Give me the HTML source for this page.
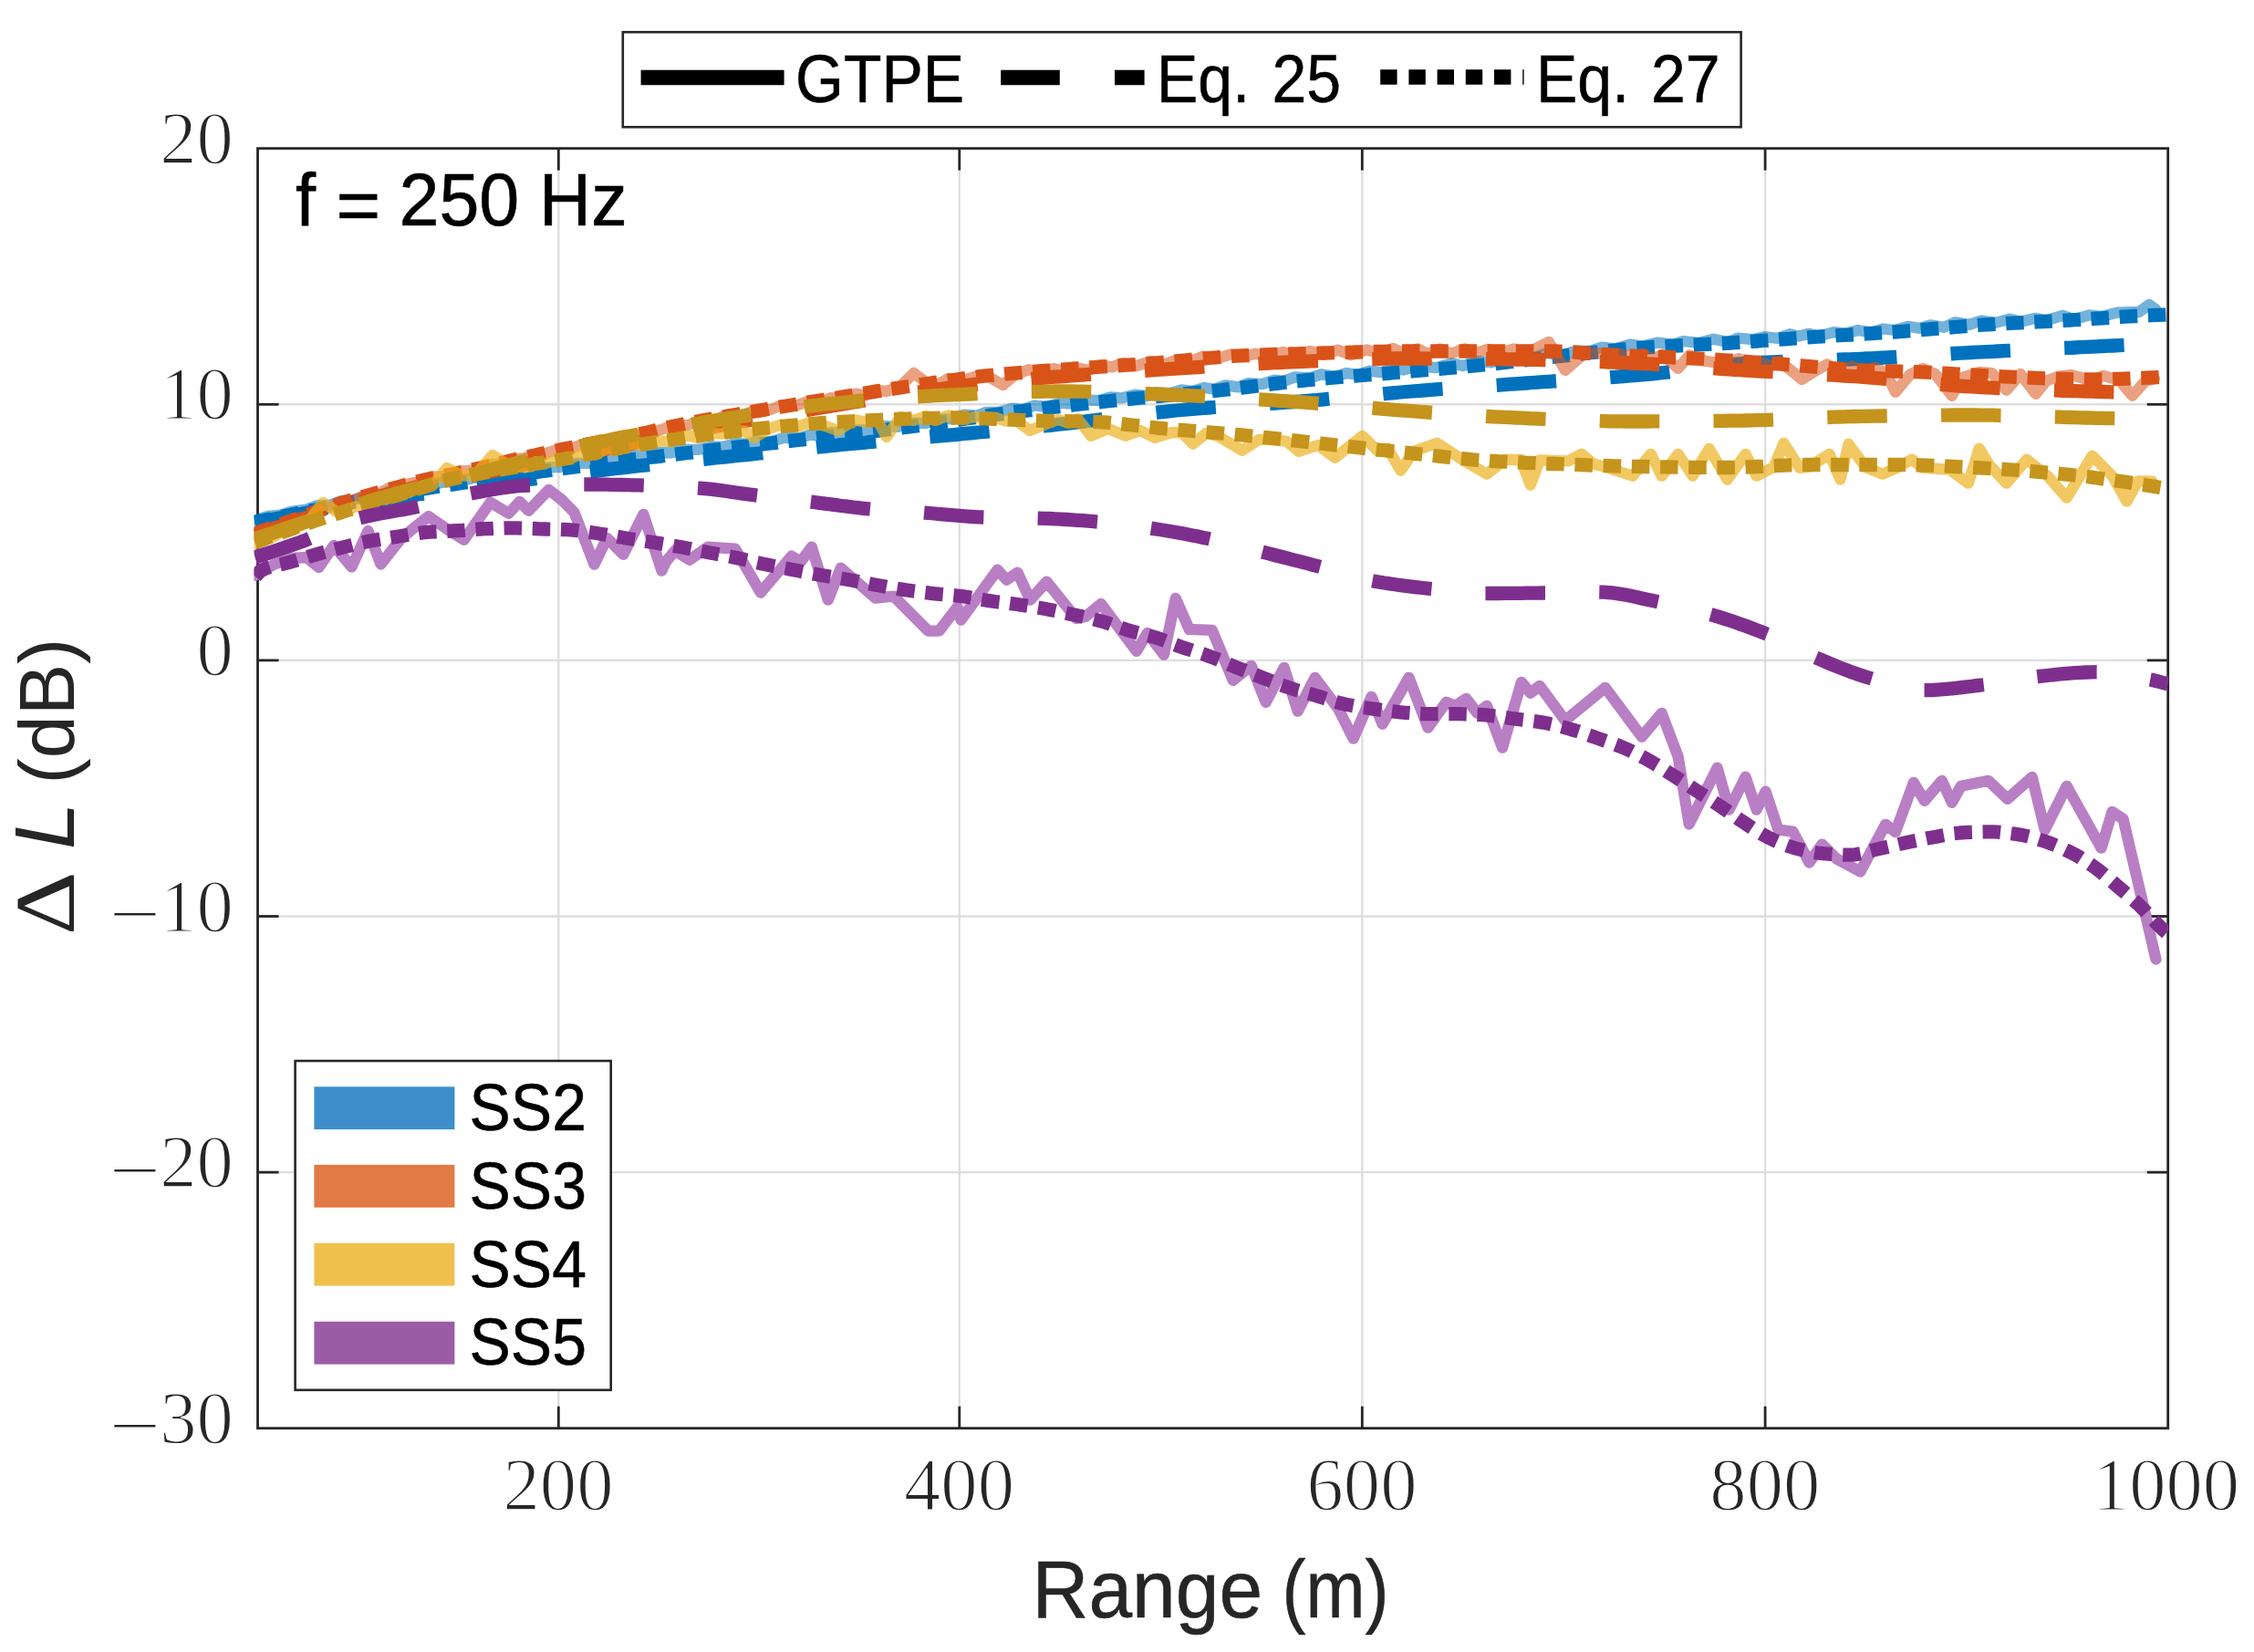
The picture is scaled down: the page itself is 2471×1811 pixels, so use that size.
<!DOCTYPE html>
<html><head><meta charset="utf-8"><title>Figure</title>
<style>html,body{margin:0;padding:0;background:#fff}svg{display:block}</style></head>
<body>
<svg width="2471" height="1811" viewBox="0 0 2471 1811">
<rect width="2471" height="1811" fill="#fff"/>
<g stroke="#DEDEDE" stroke-width="2.4" fill="none">
<line x1="612.3" y1="162.7" x2="612.3" y2="1565.7"/>
<line x1="1051.8" y1="162.7" x2="1051.8" y2="1565.7"/>
<line x1="1493.3" y1="162.7" x2="1493.3" y2="1565.7"/>
<line x1="1935.1" y1="162.7" x2="1935.1" y2="1565.7"/>
<line x1="282.5" y1="443.3" x2="2376.7" y2="443.3"/>
<line x1="282.5" y1="723.9" x2="2376.7" y2="723.9"/>
<line x1="282.5" y1="1004.5" x2="2376.7" y2="1004.5"/>
<line x1="282.5" y1="1285.1" x2="2376.7" y2="1285.1"/>
</g>
<g stroke="#262626" stroke-width="2.8" fill="none">
<rect x="282.5" y="162.7" width="2094.2" height="1403.0"/>
<line x1="612.3" y1="1565.7" x2="612.3" y2="1541.7"/>
<line x1="612.3" y1="162.7" x2="612.3" y2="186.7"/>
<line x1="1051.8" y1="1565.7" x2="1051.8" y2="1541.7"/>
<line x1="1051.8" y1="162.7" x2="1051.8" y2="186.7"/>
<line x1="1493.3" y1="1565.7" x2="1493.3" y2="1541.7"/>
<line x1="1493.3" y1="162.7" x2="1493.3" y2="186.7"/>
<line x1="1935.1" y1="1565.7" x2="1935.1" y2="1541.7"/>
<line x1="1935.1" y1="162.7" x2="1935.1" y2="186.7"/>
<line x1="282.5" y1="443.3" x2="305.5" y2="443.3"/>
<line x1="2376.7" y1="443.3" x2="2353.7" y2="443.3"/>
<line x1="282.5" y1="723.9" x2="305.5" y2="723.9"/>
<line x1="2376.7" y1="723.9" x2="2353.7" y2="723.9"/>
<line x1="282.5" y1="1004.5" x2="305.5" y2="1004.5"/>
<line x1="2376.7" y1="1004.5" x2="2353.7" y2="1004.5"/>
<line x1="282.5" y1="1285.1" x2="305.5" y2="1285.1"/>
<line x1="2376.7" y1="1285.1" x2="2353.7" y2="1285.1"/>
</g>
<defs><clipPath id="cp"><rect x="278.5" y="162.7" width="2098.7" height="1403.0"/></clipPath></defs>
<g clip-path="url(#cp)" fill="none" stroke-linejoin="round">
<path d="M279.5,570.1 L293.9,565.8 L308.7,564.4 L319.1,560.9 L335.9,558.5 L347.7,554.2 L361.4,553.8 L375.2,548.8 L386.3,548.5 L403.4,543.1 L419.4,541.8 L429.8,537.7 L444.5,536.9 L454.6,533.3 L468.4,533.4 L485.5,528.5 L503.1,527.8 L519.6,523.7 L537.3,523.2 L547.9,519.7 L559.5,520.0 L573.0,515.6 L585.3,515.9 L598.3,512.3 L613.1,512.2 L630.5,507.6 L648.1,507.9 L666.2,503.0 L677.4,504.2 L695.3,499.2 L709.8,500.0 L721.4,496.0 L736.0,496.5 L746.4,493.0 L764.5,492.9 L781.0,489.4 L792.1,489.9 L808.3,485.7 L818.5,487.2 L828.7,483.5 L841.3,484.9 L859.3,480.1 L877.5,480.0 L887.9,476.7 L898.0,477.5 L911.2,474.0 L922.3,474.6 L939.4,471.0 L957.3,471.4 L970.2,467.1 L984.4,467.8 L999.2,463.3 L1014.2,464.2 L1028.3,459.4 L1044.1,459.1 L1056.5,454.7 L1070.6,455.7 L1080.5,451.9 L1095.2,451.7 L1110.2,447.7 L1120.5,449.1 L1134.2,444.5 L1147.0,445.9 L1163.0,441.8 L1173.3,442.7 L1191.2,438.3 L1204.8,439.2 L1217.3,435.3 L1229.7,436.3 L1244.5,432.7 L1257.5,434.2 L1267.5,430.2 L1283.5,431.2 L1295.2,427.3 L1307.0,428.9 L1320.4,425.0 L1331.1,426.6 L1343.7,422.4 L1357.2,424.4 L1368.4,420.1 L1383.6,421.2 L1397.2,416.6 L1408.0,417.8 L1419.5,413.3 L1436.3,414.4 L1448.4,410.4 L1463.6,412.8 L1476.3,409.0 L1488.6,410.8 L1500.7,406.7 L1514.0,408.2 L1527.2,403.7 L1538.3,405.5 L1556.0,401.3 L1574.1,403.2 L1591.9,398.1 L1603.6,401.0 L1620.4,395.8 L1634.6,397.3 L1647.2,393.5 L1657.6,395.1 L1669.8,390.1 L1680.0,393.0 L1695.6,386.9 L1712.9,389.3 L1727.6,384.7 L1743.6,384.8 L1756.0,380.6 L1770.2,382.4 L1787.9,377.5 L1800.5,379.5 L1817.6,375.6 L1833.9,377.6 L1845.4,374.0 L1862.1,375.9 L1878.5,371.7 L1895.1,375.2 L1904.9,370.6 L1922.0,372.2 L1934.1,369.1 L1948.3,370.9 L1962.1,366.2 L1971.9,368.6 L1982.8,365.8 L1993.1,368.6 L2010.1,364.1 L2024.1,365.6 L2036.6,362.0 L2051.8,364.4 L2064.6,360.5 L2077.2,362.0 L2091.7,357.8 L2104.7,359.9 L2116.0,356.3 L2130.8,358.8 L2143.8,353.2 L2158.9,355.9 L2171.8,351.5 L2187.5,353.9 L2203.1,349.7 L2215.0,352.7 L2230.6,348.9 L2244.0,351.0 L2261.2,345.8 L2274.1,350.2 L2290.6,345.3 L2304.3,347.0 L2320.9,342.6 L2345.0,342.0 L2356.0,334.0 L2363.0,339.0" stroke="#0072BD" stroke-opacity="0.55" stroke-width="12.3" stroke-linecap="round"/>
<path d="M279.5,573.5 L285.5,572.3 L291.5,571.1 L297.5,569.8 L303.5,568.6 L309.5,567.4 L315.6,566.3 L321.6,565.1 L327.6,563.9 L333.6,562.8 L339.6,561.7 L345.6,560.5 L351.6,559.4 L357.6,558.3 L363.6,557.3 L369.6,556.2 L375.6,555.1 L381.7,554.1 L387.7,553.1 L393.7,552.1 L399.7,551.1 L405.7,550.1 L411.7,549.1 L417.7,548.1 L423.7,547.2 L429.7,546.2 L435.7,545.3 L441.7,544.4 L447.8,543.5 L453.8,542.6 L459.8,541.7 L465.8,540.9 L471.8,540.0 L477.8,539.1 L483.8,538.3 L489.8,537.4 L495.8,536.6 L501.8,535.7 L507.8,534.9 L513.9,534.1 L519.9,533.3 L525.9,532.5 L531.9,531.7 L537.9,530.9 L543.9,530.1 L549.9,529.4 L555.9,528.6 L561.9,527.8 L567.9,527.1 L573.9,526.3 L580.0,525.5 L586.0,524.8 L592.0,524.0 L598.0,523.3 L604.0,522.5 L610.0,521.7 L616.0,520.9 L622.0,520.2 L628.0,519.4 L634.0,518.6 L640.1,517.9 L646.1,517.1 L652.1,516.4 L658.1,515.6 L664.1,514.9 L670.1,514.2 L676.1,513.5 L682.1,512.8 L688.1,512.1 L694.1,511.4 L700.1,510.7 L706.2,510.1 L712.2,509.5 L718.2,508.8 L724.2,508.2 L730.2,507.6 L736.2,506.9 L742.2,506.3 L748.2,505.7 L754.2,505.1 L760.2,504.5 L766.2,503.9 L772.3,503.3 L778.3,502.7 L784.3,502.0 L790.3,501.4 L796.3,500.8 L802.3,500.2 L808.3,499.5 L814.3,498.9 L820.3,498.3 L826.3,497.6 L832.3,497.0 L838.4,496.3 L844.4,495.7 L850.4,495.0 L856.4,494.4 L862.4,493.8 L868.4,493.1 L874.4,492.5 L880.4,491.8 L886.4,491.2 L892.4,490.6 L898.4,489.9 L904.5,489.3 L910.5,488.7 L916.5,488.1 L922.5,487.5 L928.5,487.0 L934.5,486.4 L940.5,485.8 L946.5,485.3 L952.5,484.7 L958.5,484.2 L964.5,483.7 L970.6,483.1 L976.6,482.6 L982.6,482.1 L988.6,481.6 L994.6,481.1 L1000.6,480.6 L1006.6,480.0 L1012.6,479.5 L1018.6,479.0 L1024.6,478.5 L1030.6,477.9 L1036.7,477.4 L1042.7,476.9 L1048.7,476.3 L1054.7,475.7 L1060.7,475.2 L1066.7,474.6 L1072.7,474.0 L1078.7,473.5 L1084.7,472.9 L1090.7,472.3 L1096.7,471.7 L1102.8,471.1 L1108.8,470.6 L1114.8,470.0 L1120.8,469.4 L1126.8,468.8 L1132.8,468.1 L1138.8,467.5 L1144.8,466.9 L1150.8,466.3 L1156.8,465.7 L1162.8,465.0 L1168.9,464.4 L1174.9,463.7 L1180.9,463.0 L1186.9,462.3 L1192.9,461.5 L1198.9,460.8 L1204.9,460.1 L1210.9,459.3 L1216.9,458.5 L1222.9,457.8 L1228.9,457.0 L1235.0,456.3 L1241.0,455.5 L1247.0,454.8 L1253.0,454.0 L1259.0,453.3 L1265.0,452.6 L1271.0,451.9 L1277.0,451.3 L1283.0,450.6 L1289.0,450.0 L1295.0,449.5 L1301.1,448.9 L1307.1,448.4 L1313.1,447.9 L1319.1,447.4 L1325.1,447.0 L1331.1,446.5 L1337.1,446.1 L1343.1,445.7 L1349.1,445.3 L1355.1,444.8 L1361.2,444.4 L1367.2,444.1 L1373.2,443.7 L1379.2,443.3 L1385.2,442.9 L1391.2,442.5 L1397.2,442.1 L1403.2,441.6 L1409.2,441.2 L1415.2,440.8 L1421.2,440.3 L1427.3,439.8 L1433.3,439.3 L1439.3,438.8 L1445.3,438.3 L1451.3,437.8 L1457.3,437.2 L1463.3,436.7 L1469.3,436.1 L1475.3,435.6 L1481.3,435.0 L1487.3,434.4 L1493.4,433.9 L1499.4,433.3 L1505.4,432.7 L1511.4,432.2 L1517.4,431.6 L1523.4,431.1 L1529.4,430.6 L1535.4,430.0 L1541.4,429.5 L1547.4,429.0 L1553.4,428.6 L1559.5,428.1 L1565.5,427.6 L1571.5,427.2 L1577.5,426.7 L1583.5,426.3 L1589.5,425.9 L1595.5,425.4 L1601.5,425.0 L1607.5,424.6 L1613.5,424.2 L1619.5,423.7 L1625.6,423.3 L1631.6,422.9 L1637.6,422.5 L1643.6,422.1 L1649.6,421.7 L1655.6,421.2 L1661.6,420.8 L1667.6,420.4 L1673.6,420.0 L1679.6,419.5 L1685.6,419.1 L1691.7,418.7 L1697.7,418.3 L1703.7,417.9 L1709.7,417.5 L1715.7,417.1 L1721.7,416.7 L1727.7,416.3 L1733.7,415.9 L1739.7,415.5 L1745.7,415.1 L1751.7,414.6 L1757.8,414.2 L1763.8,413.8 L1769.8,413.3 L1775.8,412.9 L1781.8,412.4 L1787.8,411.9 L1793.8,411.4 L1799.8,410.9 L1805.8,410.4 L1811.8,409.8 L1817.8,409.2 L1823.9,408.5 L1829.9,407.8 L1835.9,407.1 L1841.9,406.3 L1847.9,405.6 L1853.9,404.8 L1859.9,404.1 L1865.9,403.3 L1871.9,402.6 L1877.9,401.9 L1883.9,401.2 L1890.0,400.6 L1896.0,400.0 L1902.0,399.4 L1908.0,398.9 L1914.0,398.5 L1920.0,398.1 L1926.0,397.7 L1932.0,397.4 L1938.0,397.1 L1944.0,396.8 L1950.0,396.6 L1956.1,396.3 L1962.1,396.1 L1968.1,395.9 L1974.1,395.7 L1980.1,395.5 L1986.1,395.3 L1992.1,395.1 L1998.1,394.9 L2004.1,394.7 L2010.1,394.5 L2016.1,394.2 L2022.2,394.0 L2028.2,393.8 L2034.2,393.6 L2040.2,393.3 L2046.2,393.0 L2052.2,392.8 L2058.2,392.5 L2064.2,392.1 L2070.2,391.8 L2076.2,391.5 L2082.3,391.1 L2088.3,390.8 L2094.3,390.4 L2100.3,390.1 L2106.3,389.7 L2112.3,389.4 L2118.3,389.0 L2124.3,388.6 L2130.3,388.3 L2136.3,387.9 L2142.3,387.5 L2148.4,387.2 L2154.4,386.9 L2160.4,386.5 L2166.4,386.2 L2172.4,385.9 L2178.4,385.6 L2184.4,385.3 L2190.4,385.0 L2196.4,384.7 L2202.4,384.4 L2208.4,384.1 L2214.5,383.8 L2220.5,383.5 L2226.5,383.2 L2232.5,382.9 L2238.5,382.7 L2244.5,382.4 L2250.5,382.1 L2256.5,381.8 L2262.5,381.5 L2268.5,381.3 L2274.5,381.0 L2280.6,380.7 L2286.6,380.4 L2292.6,380.1 L2298.6,379.8 L2304.6,379.5 L2310.6,379.2 L2316.6,379.0 L2322.6,378.7 L2328.6,378.4 L2334.6,378.1 L2340.6,377.8 L2346.7,377.5 L2352.7,377.2 L2358.7,376.9 L2364.7,376.6 L2370.7,376.3 L2376.7,376.0" stroke="#0072BD" stroke-width="15.3" stroke-dasharray="65.5 59.3" stroke-dashoffset="2.5"/>
<path d="M279.5,572.5 L285.5,571.3 L291.5,570.0 L297.5,568.8 L303.5,567.5 L309.5,566.3 L315.6,565.0 L321.6,563.8 L327.6,562.6 L333.6,561.3 L339.6,560.1 L345.6,558.9 L351.6,557.7 L357.6,556.4 L363.6,555.2 L369.6,554.0 L375.6,552.7 L381.7,551.4 L387.7,550.2 L393.7,549.0 L399.7,547.7 L405.7,546.5 L411.7,545.3 L417.7,544.1 L423.7,543.0 L429.7,541.8 L435.7,540.8 L441.7,539.7 L447.8,538.7 L453.8,537.7 L459.8,536.7 L465.8,535.7 L471.8,534.7 L477.8,533.8 L483.8,532.9 L489.8,532.0 L495.8,531.1 L501.8,530.2 L507.8,529.3 L513.9,528.4 L519.9,527.5 L525.9,526.6 L531.9,525.7 L537.9,524.8 L543.9,523.9 L549.9,523.1 L555.9,522.2 L561.9,521.3 L567.9,520.4 L573.9,519.6 L580.0,518.7 L586.0,517.9 L592.0,517.0 L598.0,516.2 L604.0,515.4 L610.0,514.5 L616.0,513.7 L622.0,512.9 L628.0,512.1 L634.0,511.3 L640.1,510.6 L646.1,509.8 L652.1,509.0 L658.1,508.2 L664.1,507.5 L670.1,506.7 L676.1,506.0 L682.1,505.2 L688.1,504.5 L694.1,503.7 L700.1,503.0 L706.2,502.2 L712.2,501.5 L718.2,500.8 L724.2,500.1 L730.2,499.3 L736.2,498.6 L742.2,497.9 L748.2,497.2 L754.2,496.5 L760.2,495.8 L766.2,495.1 L772.3,494.4 L778.3,493.7 L784.3,493.0 L790.3,492.3 L796.3,491.6 L802.3,490.9 L808.3,490.2 L814.3,489.5 L820.3,488.8 L826.3,488.1 L832.3,487.4 L838.4,486.7 L844.4,486.0 L850.4,485.3 L856.4,484.6 L862.4,483.9 L868.4,483.2 L874.4,482.5 L880.4,481.8 L886.4,481.1 L892.4,480.4 L898.4,479.7 L904.5,479.0 L910.5,478.3 L916.5,477.6 L922.5,476.9 L928.5,476.2 L934.5,475.5 L940.5,474.8 L946.5,474.1 L952.5,473.4 L958.5,472.7 L964.5,471.9 L970.6,471.2 L976.6,470.5 L982.6,469.7 L988.6,469.0 L994.6,468.2 L1000.6,467.4 L1006.6,466.6 L1012.6,465.8 L1018.6,464.9 L1024.6,464.1 L1030.6,463.2 L1036.7,462.3 L1042.7,461.5 L1048.7,460.6 L1054.7,459.7 L1060.7,458.8 L1066.7,458.0 L1072.7,457.1 L1078.7,456.3 L1084.7,455.4 L1090.7,454.6 L1096.7,453.8 L1102.8,453.0 L1108.8,452.2 L1114.8,451.4 L1120.8,450.7 L1126.8,449.9 L1132.8,449.1 L1138.8,448.4 L1144.8,447.6 L1150.8,446.9 L1156.8,446.2 L1162.8,445.5 L1168.9,444.8 L1174.9,444.1 L1180.9,443.4 L1186.9,442.7 L1192.9,442.1 L1198.9,441.4 L1204.9,440.8 L1210.9,440.1 L1216.9,439.5 L1222.9,438.9 L1228.9,438.3 L1235.0,437.7 L1241.0,437.1 L1247.0,436.5 L1253.0,436.0 L1259.0,435.4 L1265.0,434.9 L1271.0,434.3 L1277.0,433.7 L1283.0,433.2 L1289.0,432.6 L1295.0,432.1 L1301.1,431.5 L1307.1,430.9 L1313.1,430.3 L1319.1,429.7 L1325.1,429.1 L1331.1,428.5 L1337.1,427.9 L1343.1,427.2 L1349.1,426.5 L1355.1,425.8 L1361.2,425.1 L1367.2,424.4 L1373.2,423.6 L1379.2,422.9 L1385.2,422.1 L1391.2,421.4 L1397.2,420.7 L1403.2,419.9 L1409.2,419.2 L1415.2,418.6 L1421.2,417.9 L1427.3,417.3 L1433.3,416.7 L1439.3,416.1 L1445.3,415.6 L1451.3,415.0 L1457.3,414.5 L1463.3,414.0 L1469.3,413.5 L1475.3,413.0 L1481.3,412.5 L1487.3,412.0 L1493.4,411.5 L1499.4,411.0 L1505.4,410.6 L1511.4,410.1 L1517.4,409.6 L1523.4,409.1 L1529.4,408.5 L1535.4,408.0 L1541.4,407.5 L1547.4,407.0 L1553.4,406.5 L1559.5,406.0 L1565.5,405.5 L1571.5,405.0 L1577.5,404.5 L1583.5,404.0 L1589.5,403.5 L1595.5,402.9 L1601.5,402.4 L1607.5,401.8 L1613.5,401.2 L1619.5,400.6 L1625.6,400.0 L1631.6,399.4 L1637.6,398.7 L1643.6,398.1 L1649.6,397.4 L1655.6,396.7 L1661.6,396.0 L1667.6,395.3 L1673.6,394.6 L1679.6,393.9 L1685.6,393.2 L1691.7,392.5 L1697.7,391.8 L1703.7,391.1 L1709.7,390.5 L1715.7,389.8 L1721.7,389.2 L1727.7,388.5 L1733.7,387.9 L1739.7,387.2 L1745.7,386.5 L1751.7,385.9 L1757.8,385.2 L1763.8,384.6 L1769.8,384.0 L1775.8,383.4 L1781.8,382.8 L1787.8,382.3 L1793.8,381.8 L1799.8,381.3 L1805.8,380.9 L1811.8,380.5 L1817.8,380.1 L1823.9,379.7 L1829.9,379.4 L1835.9,379.1 L1841.9,378.8 L1847.9,378.5 L1853.9,378.2 L1859.9,377.9 L1865.9,377.6 L1871.9,377.3 L1877.9,377.0 L1883.9,376.7 L1890.0,376.4 L1896.0,376.0 L1902.0,375.6 L1908.0,375.2 L1914.0,374.8 L1920.0,374.4 L1926.0,374.0 L1932.0,373.5 L1938.0,373.1 L1944.0,372.7 L1950.0,372.2 L1956.1,371.8 L1962.1,371.3 L1968.1,370.9 L1974.1,370.5 L1980.1,370.0 L1986.1,369.6 L1992.1,369.2 L1998.1,368.8 L2004.1,368.5 L2010.1,368.1 L2016.1,367.7 L2022.2,367.4 L2028.2,367.0 L2034.2,366.6 L2040.2,366.3 L2046.2,365.9 L2052.2,365.5 L2058.2,365.2 L2064.2,364.8 L2070.2,364.4 L2076.2,364.0 L2082.3,363.6 L2088.3,363.1 L2094.3,362.7 L2100.3,362.2 L2106.3,361.7 L2112.3,361.2 L2118.3,360.7 L2124.3,360.1 L2130.3,359.6 L2136.3,359.1 L2142.3,358.6 L2148.4,358.1 L2154.4,357.6 L2160.4,357.1 L2166.4,356.7 L2172.4,356.2 L2178.4,355.8 L2184.4,355.5 L2190.4,355.1 L2196.4,354.8 L2202.4,354.4 L2208.4,354.1 L2214.5,353.8 L2220.5,353.5 L2226.5,353.2 L2232.5,352.9 L2238.5,352.6 L2244.5,352.3 L2250.5,352.0 L2256.5,351.7 L2262.5,351.4 L2268.5,351.0 L2274.5,350.7 L2280.6,350.3 L2286.6,349.9 L2292.6,349.6 L2298.6,349.2 L2304.6,348.8 L2310.6,348.4 L2316.6,348.0 L2322.6,347.6 L2328.6,347.2 L2334.6,346.9 L2340.6,346.5 L2346.7,346.2 L2352.7,345.9 L2358.7,345.6 L2364.7,345.4 L2370.7,345.2 L2376.7,345.0" stroke="#0072BD" stroke-width="15.3" stroke-dasharray="19.5 11.7" stroke-dashoffset="1.1"/>
<path d="M279.5,586.0 L294.4,578.3 L310.8,575.0 L327.1,567.4 L339.9,565.0 L354.0,556.9 L364.0,556.0 L375.0,550.2 L388.6,547.8 L399.4,543.2 L415.6,541.0 L426.0,535.2 L436.2,535.2 L446.3,530.5 L462.2,527.7 L472.9,522.6 L488.8,522.2 L505.4,516.5 L519.8,515.4 L536.3,509.1 L552.9,508.4 L564.3,502.9 L574.7,502.5 L584.3,498.5 L598.1,497.1 L612.5,492.2 L624.1,492.7 L636.9,487.3 L649.8,487.5 L659.3,482.0 L668.6,484.0 L684.3,478.4 L699.5,477.4 L713.1,472.5 L722.6,471.8 L739.1,466.0 L754.1,466.1 L770.6,459.6 L782.5,460.3 L797.6,455.1 L812.5,455.5 L828.3,449.9 L844.8,448.9 L856.6,444.2 L872.8,444.6 L889.1,438.9 L900.7,440.0 L911.2,436.1 L921.4,437.3 L938.3,431.6 L947.8,433.6 L961.0,427.5 L972.0,429.1 L987.5,423.2 L1001.6,409.0 L1016.2,419.7 L1029.1,421.0 L1039.2,415.2 L1055.8,417.0 L1071.0,412.0 L1083.5,412.8 L1099.5,422.0 L1111.8,411.7 L1127.6,405.1 L1140.2,408.7 L1155.0,404.0 L1166.4,406.7 L1176.6,402.6 L1193.4,405.8 L1207.4,400.2 L1219.1,402.4 L1230.4,398.1 L1246.2,401.1 L1261.5,395.9 L1276.0,399.5 L1291.0,394.1 L1305.6,396.0 L1318.5,390.6 L1333.0,393.4 L1349.5,388.3 L1363.1,390.9 L1376.4,387.7 L1390.8,390.8 L1406.3,385.9 L1421.6,389.6 L1435.7,384.8 L1451.3,388.9 L1466.9,383.7 L1481.4,389.3 L1498.0,383.5 L1511.2,386.9 L1526.8,382.0 L1539.6,387.6 L1554.4,382.3 L1564.8,387.9 L1578.4,382.4 L1590.8,387.5 L1606.0,382.4 L1620.7,386.3 L1631.0,382.8 L1645.2,386.7 L1659.6,382.4 L1669.1,387.3 L1679.9,383.7 L1698.0,374.9 L1715.9,405.9 L1735.7,388.6 L1751.9,386.8 L1764.1,390.8 L1776.4,388.0 L1792.0,392.4 L1801.4,387.8 L1811.2,393.6 L1823.0,388.7 L1839.7,403.9 L1851.9,389.4 L1869.7,395.9 L1889.8,398.5 L1906.4,393.1 L1918.2,400.3 L1927.4,395.7 L1940.9,401.2 L1951.1,396.1 L1975.5,415.9 L1991.0,406.1 L2003.0,399.4 L2019.2,407.4 L2030.4,401.3 L2043.3,408.4 L2054.9,402.4 L2067.9,409.0 L2077.9,429.8 L2094.6,410.1 L2108.0,404.0 L2121.6,410.1 L2139.8,433.8 L2151.2,413.9 L2170.0,408.0 L2183.9,409.1 L2199.7,427.8 L2215.0,410.0 L2231.7,431.8 L2243.7,417.2 L2257.0,412.5 L2270.0,411.0 L2282.6,414.3 L2293.7,418.8 L2305.6,411.8 L2323.3,416.9 L2337.6,433.8 L2352.0,417.7 L2362.0,415.0" stroke="#D95319" stroke-opacity="0.55" stroke-width="12.3" stroke-linecap="round"/>
<path d="M279.5,586.8 L285.5,584.8 L291.5,582.8 L297.5,580.8 L303.5,578.8 L309.5,576.8 L315.6,574.8 L321.6,572.8 L327.6,570.8 L333.6,568.8 L339.6,566.8 L345.6,564.8 L351.6,562.8 L357.6,560.8 L363.6,558.8 L369.6,556.9 L375.6,555.1 L381.7,553.4 L387.7,551.7 L393.7,550.1 L399.7,548.5 L405.7,546.9 L411.7,545.4 L417.7,543.9 L423.7,542.3 L429.7,540.8 L435.7,539.3 L441.7,537.7 L447.8,536.2 L453.8,534.8 L459.8,533.3 L465.8,531.9 L471.8,530.6 L477.8,529.4 L483.8,528.2 L489.8,527.0 L495.8,525.8 L501.8,524.6 L507.8,523.4 L513.9,522.1 L519.9,520.8 L525.9,519.4 L531.9,518.1 L537.9,516.8 L543.9,515.5 L549.9,514.2 L555.9,512.9 L561.9,511.6 L567.9,510.3 L573.9,509.1 L580.0,507.8 L586.0,506.6 L592.0,505.4 L598.0,504.1 L604.0,502.9 L610.0,501.7 L616.0,500.6 L622.0,499.4 L628.0,498.3 L634.0,497.2 L640.1,496.2 L646.1,495.2 L652.1,494.1 L658.1,493.1 L664.1,492.0 L670.1,490.9 L676.1,489.8 L682.1,488.6 L688.1,487.3 L694.1,486.0 L700.1,484.7 L706.2,483.3 L712.2,481.9 L718.2,480.5 L724.2,479.2 L730.2,478.0 L736.2,476.7 L742.2,475.5 L748.2,474.3 L754.2,473.1 L760.2,472.0 L766.2,470.8 L772.3,469.6 L778.3,468.5 L784.3,467.4 L790.3,466.2 L796.3,465.1 L802.3,464.0 L808.3,462.9 L814.3,461.8 L820.3,460.7 L826.3,459.7 L832.3,458.6 L838.4,457.5 L844.4,456.4 L850.4,455.4 L856.4,454.3 L862.4,453.3 L868.4,452.3 L874.4,451.2 L880.4,450.2 L886.4,449.2 L892.4,448.2 L898.4,447.2 L904.5,446.2 L910.5,445.2 L916.5,444.2 L922.5,443.2 L928.5,442.2 L934.5,441.3 L940.5,440.3 L946.5,439.3 L952.5,438.3 L958.5,437.4 L964.5,436.4 L970.6,435.5 L976.6,434.5 L982.6,433.6 L988.6,432.7 L994.6,431.8 L1000.6,430.9 L1006.6,430.0 L1012.6,429.1 L1018.6,428.3 L1024.6,427.4 L1030.6,426.5 L1036.7,425.7 L1042.7,424.9 L1048.7,424.0 L1054.7,423.2 L1060.7,422.4 L1066.7,421.7 L1072.7,420.9 L1078.7,420.2 L1084.7,419.6 L1090.7,418.9 L1096.7,418.3 L1102.8,417.7 L1108.8,417.2 L1114.8,416.6 L1120.8,416.1 L1126.8,415.6 L1132.8,415.1 L1138.8,414.6 L1144.8,414.2 L1150.8,413.7 L1156.8,413.2 L1162.8,412.8 L1168.9,412.3 L1174.9,411.9 L1180.9,411.4 L1186.9,411.0 L1192.9,410.5 L1198.9,410.1 L1204.9,409.7 L1210.9,409.2 L1216.9,408.8 L1222.9,408.4 L1228.9,408.0 L1235.0,407.6 L1241.0,407.2 L1247.0,406.8 L1253.0,406.4 L1259.0,406.0 L1265.0,405.6 L1271.0,405.2 L1277.0,404.8 L1283.0,404.4 L1289.0,404.1 L1295.0,403.7 L1301.1,403.3 L1307.1,402.9 L1313.1,402.6 L1319.1,402.2 L1325.1,401.8 L1331.1,401.4 L1337.1,401.1 L1343.1,400.7 L1349.1,400.3 L1355.1,400.0 L1361.2,399.6 L1367.2,399.3 L1373.2,399.0 L1379.2,398.6 L1385.2,398.3 L1391.2,398.0 L1397.2,397.7 L1403.2,397.5 L1409.2,397.2 L1415.2,396.9 L1421.2,396.7 L1427.3,396.4 L1433.3,396.2 L1439.3,395.9 L1445.3,395.7 L1451.3,395.4 L1457.3,395.1 L1463.3,394.9 L1469.3,394.7 L1475.3,394.4 L1481.3,394.2 L1487.3,394.0 L1493.4,393.8 L1499.4,393.6 L1505.4,393.5 L1511.4,393.3 L1517.4,393.2 L1523.4,393.1 L1529.4,393.0 L1535.4,393.0 L1541.4,393.0 L1547.4,393.0 L1553.4,393.0 L1559.5,393.0 L1565.5,393.1 L1571.5,393.1 L1577.5,393.1 L1583.5,393.2 L1589.5,393.2 L1595.5,393.2 L1601.5,393.3 L1607.5,393.4 L1613.5,393.4 L1619.5,393.5 L1625.6,393.5 L1631.6,393.6 L1637.6,393.7 L1643.6,393.7 L1649.6,393.8 L1655.6,393.9 L1661.6,394.0 L1667.6,394.0 L1673.6,394.1 L1679.6,394.3 L1685.6,394.4 L1691.7,394.5 L1697.7,394.7 L1703.7,394.8 L1709.7,395.0 L1715.7,395.2 L1721.7,395.4 L1727.7,395.6 L1733.7,395.8 L1739.7,396.0 L1745.7,396.3 L1751.7,396.5 L1757.8,396.7 L1763.8,397.0 L1769.8,397.2 L1775.8,397.5 L1781.8,397.7 L1787.8,398.0 L1793.8,398.3 L1799.8,398.6 L1805.8,398.9 L1811.8,399.2 L1817.8,399.6 L1823.9,399.9 L1829.9,400.3 L1835.9,400.7 L1841.9,401.1 L1847.9,401.6 L1853.9,402.0 L1859.9,402.4 L1865.9,402.8 L1871.9,403.3 L1877.9,403.7 L1883.9,404.1 L1890.0,404.5 L1896.0,404.9 L1902.0,405.3 L1908.0,405.7 L1914.0,406.1 L1920.0,406.4 L1926.0,406.8 L1932.0,407.1 L1938.0,407.4 L1944.0,407.7 L1950.0,408.0 L1956.1,408.4 L1962.1,408.7 L1968.1,409.0 L1974.1,409.3 L1980.1,409.6 L1986.1,409.9 L1992.1,410.2 L1998.1,410.6 L2004.1,410.9 L2010.1,411.2 L2016.1,411.6 L2022.2,412.0 L2028.2,412.3 L2034.2,412.7 L2040.2,413.2 L2046.2,413.6 L2052.2,414.1 L2058.2,414.6 L2064.2,415.1 L2070.2,415.7 L2076.2,416.3 L2082.3,416.9 L2088.3,417.5 L2094.3,418.1 L2100.3,418.7 L2106.3,419.3 L2112.3,420.0 L2118.3,420.5 L2124.3,421.1 L2130.3,421.7 L2136.3,422.2 L2142.3,422.7 L2148.4,423.1 L2154.4,423.5 L2160.4,423.9 L2166.4,424.2 L2172.4,424.6 L2178.4,424.9 L2184.4,425.2 L2190.4,425.5 L2196.4,425.7 L2202.4,426.0 L2208.4,426.3 L2214.5,426.5 L2220.5,426.8 L2226.5,427.0 L2232.5,427.2 L2238.5,427.4 L2244.5,427.7 L2250.5,427.9 L2256.5,428.1 L2262.5,428.3 L2268.5,428.5 L2274.5,428.6 L2280.6,428.8 L2286.6,429.0 L2292.6,429.2 L2298.6,429.3 L2304.6,429.5 L2310.6,429.6 L2316.6,429.8 L2322.6,429.9 L2328.6,430.1 L2334.6,430.2 L2340.6,430.3 L2346.7,430.5 L2352.7,430.6 L2358.7,430.7 L2364.7,430.8 L2370.7,430.9 L2376.7,431.0" stroke="#D95319" stroke-width="15.3" stroke-dasharray="65.5 59.3" stroke-dashoffset="4.0"/>
<path d="M279.5,584.9 L285.5,582.7 L291.5,580.6 L297.5,578.5 L303.5,576.3 L309.5,574.2 L315.6,572.1 L321.6,570.0 L327.6,567.9 L333.6,565.7 L339.6,563.6 L345.6,561.4 L351.6,559.3 L357.6,557.2 L363.6,555.1 L369.6,553.1 L375.6,551.1 L381.7,549.3 L387.7,547.5 L393.7,545.7 L399.7,544.0 L405.7,542.3 L411.7,540.7 L417.7,539.0 L423.7,537.4 L429.7,535.7 L435.7,534.0 L441.7,532.3 L447.8,530.7 L453.8,529.0 L459.8,527.5 L465.8,526.0 L471.8,524.6 L477.8,523.3 L483.8,522.2 L489.8,521.0 L495.8,519.9 L501.8,518.6 L507.8,517.3 L513.9,515.9 L519.9,514.5 L525.9,513.1 L531.9,511.6 L537.9,510.2 L543.9,508.8 L549.9,507.3 L555.9,505.9 L561.9,504.6 L567.9,503.2 L573.9,501.8 L580.0,500.5 L586.0,499.1 L592.0,497.8 L598.0,496.5 L604.0,495.2 L610.0,493.9 L616.0,492.6 L622.0,491.4 L628.0,490.2 L634.0,489.0 L640.1,487.8 L646.1,486.6 L652.1,485.4 L658.1,484.3 L664.1,483.1 L670.1,482.0 L676.1,480.8 L682.1,479.6 L688.1,478.4 L694.1,477.2 L700.1,476.0 L706.2,474.8 L712.2,473.5 L718.2,472.0 L724.2,470.4 L730.2,469.0 L736.2,467.7 L742.2,466.4 L748.2,465.2 L754.2,464.0 L760.2,462.8 L766.2,461.7 L772.3,460.6 L778.3,459.5 L784.3,458.4 L790.3,457.4 L796.3,456.3 L802.3,455.3 L808.3,454.2 L814.3,453.2 L820.3,452.2 L826.3,451.1 L832.3,450.1 L838.4,449.1 L844.4,448.0 L850.4,447.0 L856.4,446.0 L862.4,445.0 L868.4,444.0 L874.4,443.0 L880.4,442.0 L886.4,441.0 L892.4,440.0 L898.4,439.1 L904.5,438.1 L910.5,437.1 L916.5,436.2 L922.5,435.2 L928.5,434.2 L934.5,433.3 L940.5,432.3 L946.5,431.3 L952.5,430.4 L958.5,429.4 L964.5,428.4 L970.6,427.5 L976.6,426.5 L982.6,425.6 L988.6,424.7 L994.6,423.8 L1000.6,422.9 L1006.6,422.0 L1012.6,421.1 L1018.6,420.3 L1024.6,419.4 L1030.6,418.5 L1036.7,417.7 L1042.7,416.8 L1048.7,416.0 L1054.7,415.2 L1060.7,414.4 L1066.7,413.6 L1072.7,412.9 L1078.7,412.2 L1084.7,411.5 L1090.7,410.9 L1096.7,410.4 L1102.8,409.8 L1108.8,409.3 L1114.8,408.8 L1120.8,408.3 L1126.8,407.8 L1132.8,407.4 L1138.8,406.9 L1144.8,406.5 L1150.8,406.1 L1156.8,405.7 L1162.8,405.2 L1168.9,404.8 L1174.9,404.4 L1180.9,403.9 L1186.9,403.5 L1192.9,403.1 L1198.9,402.7 L1204.9,402.2 L1210.9,401.8 L1216.9,401.4 L1222.9,401.0 L1228.9,400.6 L1235.0,400.2 L1241.0,399.8 L1247.0,399.4 L1253.0,399.0 L1259.0,398.5 L1265.0,398.1 L1271.0,397.6 L1277.0,397.1 L1283.0,396.6 L1289.0,396.0 L1295.0,395.4 L1301.1,394.8 L1307.1,394.2 L1313.1,393.6 L1319.1,393.1 L1325.1,392.5 L1331.1,392.0 L1337.1,391.5 L1343.1,391.0 L1349.1,390.6 L1355.1,390.2 L1361.2,389.9 L1367.2,389.7 L1373.2,389.4 L1379.2,389.2 L1385.2,389.0 L1391.2,388.7 L1397.2,388.5 L1403.2,388.3 L1409.2,388.2 L1415.2,388.0 L1421.2,387.8 L1427.3,387.6 L1433.3,387.5 L1439.3,387.3 L1445.3,387.2 L1451.3,387.0 L1457.3,386.9 L1463.3,386.7 L1469.3,386.5 L1475.3,386.3 L1481.3,386.2 L1487.3,386.0 L1493.4,385.8 L1499.4,385.7 L1505.4,385.5 L1511.4,385.4 L1517.4,385.3 L1523.4,385.2 L1529.4,385.1 L1535.4,385.0 L1541.4,385.0 L1547.4,385.0 L1553.4,385.0 L1559.5,385.0 L1565.5,385.0 L1571.5,385.0 L1577.5,385.0 L1583.5,385.0 L1589.5,385.0 L1595.5,385.0 L1601.5,385.0 L1607.5,385.0 L1613.5,385.0 L1619.5,385.0 L1625.6,385.0 L1631.6,385.0 L1637.6,385.0 L1643.6,385.0 L1649.6,385.0 L1655.6,385.0 L1661.6,385.0 L1667.6,385.0 L1673.6,385.0 L1679.6,385.0 L1685.6,385.0 L1691.7,385.0 L1697.7,385.0 L1703.7,385.0 L1709.7,385.2 L1715.7,385.4 L1721.7,385.8 L1727.7,386.2 L1733.7,386.6 L1739.7,387.1 L1745.7,387.6 L1751.7,388.1 L1757.8,388.5 L1763.8,388.9 L1769.8,389.2 L1775.8,389.5 L1781.8,389.8 L1787.8,390.0 L1793.8,390.3 L1799.8,390.5 L1805.8,390.7 L1811.8,391.0 L1817.8,391.2 L1823.9,391.5 L1829.9,391.7 L1835.9,392.0 L1841.9,392.2 L1847.9,392.5 L1853.9,392.8 L1859.9,393.1 L1865.9,393.4 L1871.9,393.8 L1877.9,394.1 L1883.9,394.5 L1890.0,394.9 L1896.0,395.2 L1902.0,395.6 L1908.0,396.0 L1914.0,396.4 L1920.0,396.8 L1926.0,397.3 L1932.0,397.7 L1938.0,398.1 L1944.0,398.5 L1950.0,398.9 L1956.1,399.4 L1962.1,399.8 L1968.1,400.3 L1974.1,400.8 L1980.1,401.3 L1986.1,401.8 L1992.1,402.3 L1998.1,402.8 L2004.1,403.3 L2010.1,403.8 L2016.1,404.2 L2022.2,404.7 L2028.2,405.1 L2034.2,405.5 L2040.2,405.8 L2046.2,406.1 L2052.2,406.3 L2058.2,406.5 L2064.2,406.7 L2070.2,406.9 L2076.2,407.0 L2082.3,407.2 L2088.3,407.4 L2094.3,407.5 L2100.3,407.7 L2106.3,407.9 L2112.3,408.2 L2118.3,408.5 L2124.3,408.8 L2130.3,409.1 L2136.3,409.4 L2142.3,409.8 L2148.4,410.1 L2154.4,410.5 L2160.4,410.9 L2166.4,411.2 L2172.4,411.6 L2178.4,411.9 L2184.4,412.3 L2190.4,412.6 L2196.4,412.8 L2202.4,413.1 L2208.4,413.4 L2214.5,413.6 L2220.5,413.9 L2226.5,414.1 L2232.5,414.4 L2238.5,414.7 L2244.5,414.9 L2250.5,415.1 L2256.5,415.3 L2262.5,415.5 L2268.5,415.7 L2274.5,415.8 L2280.6,415.9 L2286.6,416.0 L2292.6,416.0 L2298.6,416.0 L2304.6,415.9 L2310.6,415.7 L2316.6,415.5 L2322.6,415.3 L2328.6,415.1 L2334.6,414.9 L2340.6,414.6 L2346.7,414.3 L2352.7,414.1 L2358.7,413.9 L2364.7,413.6 L2370.7,413.3 L2376.7,413.0" stroke="#D95319" stroke-width="15.3" stroke-dasharray="19.5 11.7" stroke-dashoffset="0.7"/>
<path d="M279.5,596.1 L289.8,589.4 L299.4,588.7 L311.4,582.0 L324.5,578.9 L336.9,573.0 L354.0,551.0 L373.1,563.6 L389.6,555.3 L401.8,555.2 L411.3,548.2 L422.6,547.7 L432.7,542.5 L448.1,540.0 L461.8,532.9 L473.8,532.5 L490.0,513.0 L506.5,521.5 L520.2,521.5 L540.0,499.0 L559.7,511.4 L575.7,512.3 L587.0,506.1 L597.0,508.3 L612.0,503.3 L624.9,502.9 L639.3,497.1 L652.8,498.6 L664.4,492.0 L678.1,493.1 L690.8,486.9 L707.2,488.1 L721.5,483.3 L736.1,484.1 L752.9,477.4 L764.3,479.6 L778.6,475.2 L791.3,475.6 L801.3,472.2 L816.4,472.6 L827.0,480.0 L843.3,469.8 L855.9,465.6 L871.9,468.4 L887.7,463.3 L900.1,465.4 L918.5,472.0 L937.3,460.3 L950.1,463.1 L961.3,459.5 L972.0,479.0 L987.2,456.6 L1001.7,460.8 L1015.6,456.2 L1025.1,460.9 L1040.3,455.4 L1055.6,459.8 L1067.8,457.1 L1081.9,460.0 L1091.5,457.9 L1101.9,461.5 L1111.4,459.2 L1129.0,472.0 L1149.5,463.7 L1159.8,460.0 L1171.6,463.6 L1181.6,459.2 L1196.0,477.8 L1215.0,470.0 L1234.0,477.8 L1250.0,472.0 L1266.0,479.8 L1285.0,474.0 L1295.6,474.3 L1307.8,486.8 L1322.1,475.0 L1335.0,478.0 L1361.7,493.8 L1380.0,481.8 L1392.0,482.0 L1410.3,483.6 L1423.7,494.8 L1445.0,488.0 L1463.6,501.8 L1493.6,477.8 L1510.7,494.7 L1521.4,491.6 L1535.5,515.8 L1550.4,494.5 L1575.4,485.8 L1605.0,505.0 L1630.0,519.7 L1650.0,504.0 L1667.3,504.0 L1677.9,531.7 L1688.0,504.4 L1700.0,505.0 L1718.9,505.4 L1733.9,497.8 L1746.5,508.5 L1760.0,512.0 L1789.8,521.7 L1809.7,497.8 L1821.7,521.7 L1839.7,497.8 L1855.7,521.7 L1873.7,491.8 L1893.6,525.7 L1913.6,497.8 L1925.6,521.7 L1944.6,512.1 L1955.5,485.8 L1972.8,512.9 L1983.5,511.7 L2005.5,497.8 L2017.5,525.7 L2026.5,486.8 L2045.0,512.0 L2063.9,519.7 L2079.9,512.6 L2095.9,503.7 L2107.5,512.7 L2125.0,514.0 L2137.2,514.6 L2157.8,529.7 L2169.8,491.7 L2180.7,509.6 L2199.7,529.7 L2221.7,503.7 L2245.0,522.0 L2265.7,545.7 L2293.6,499.7 L2315.8,522.0 L2331.6,549.6 L2343.9,527.5 L2359.5,527.7" stroke="#EDB120" stroke-opacity="0.7" stroke-width="12.3" stroke-linecap="round"/>
<path d="M279.5,590.9 L285.5,588.8 L291.5,586.7 L297.5,584.7 L303.5,582.6 L309.5,580.6 L315.6,578.5 L321.6,576.5 L327.6,574.5 L333.6,572.5 L339.6,570.5 L345.6,568.5 L351.6,566.5 L357.6,564.5 L363.6,562.5 L369.6,560.5 L375.6,558.5 L381.7,556.5 L387.7,554.6 L393.7,552.8 L399.7,551.0 L405.7,549.2 L411.7,547.4 L417.7,545.7 L423.7,544.0 L429.7,542.3 L435.7,540.7 L441.7,539.0 L447.8,537.4 L453.8,535.8 L459.8,534.3 L465.8,532.8 L471.8,531.3 L477.8,529.9 L483.8,528.5 L489.8,527.0 L495.8,525.6 L501.8,524.2 L507.8,522.8 L513.9,521.3 L519.9,519.8 L525.9,518.2 L531.9,516.7 L537.9,515.1 L543.9,513.5 L549.9,512.0 L555.9,510.4 L561.9,508.8 L567.9,507.2 L573.9,505.6 L580.0,504.0 L586.0,502.4 L592.0,500.8 L598.0,499.1 L604.0,497.5 L610.0,495.9 L616.0,494.2 L622.0,492.7 L628.0,491.1 L634.0,489.7 L640.1,488.3 L646.1,487.0 L652.1,485.7 L658.1,484.4 L664.1,483.2 L670.1,482.0 L676.1,480.8 L682.1,479.6 L688.1,478.5 L694.1,477.3 L700.1,476.2 L706.2,475.0 L712.2,473.9 L718.2,472.7 L724.2,471.6 L730.2,470.5 L736.2,469.4 L742.2,468.3 L748.2,467.2 L754.2,466.1 L760.2,465.0 L766.2,464.0 L772.3,462.9 L778.3,461.9 L784.3,460.9 L790.3,460.0 L796.3,459.0 L802.3,458.0 L808.3,457.0 L814.3,456.1 L820.3,455.1 L826.3,454.1 L832.3,453.2 L838.4,452.2 L844.4,451.3 L850.4,450.4 L856.4,449.5 L862.4,448.6 L868.4,447.7 L874.4,446.9 L880.4,446.1 L886.4,445.3 L892.4,444.6 L898.4,443.9 L904.5,443.2 L910.5,442.6 L916.5,442.0 L922.5,441.4 L928.5,440.8 L934.5,440.3 L940.5,439.7 L946.5,439.2 L952.5,438.7 L958.5,438.2 L964.5,437.7 L970.6,437.3 L976.6,436.8 L982.6,436.4 L988.6,435.9 L994.6,435.5 L1000.6,435.1 L1006.6,434.8 L1012.6,434.4 L1018.6,434.1 L1024.6,433.7 L1030.6,433.4 L1036.7,433.2 L1042.7,432.9 L1048.7,432.6 L1054.7,432.3 L1060.7,432.1 L1066.7,431.8 L1072.7,431.5 L1078.7,431.3 L1084.7,431.0 L1090.7,430.8 L1096.7,430.5 L1102.8,430.3 L1108.8,430.1 L1114.8,429.9 L1120.8,429.7 L1126.8,429.5 L1132.8,429.4 L1138.8,429.3 L1144.8,429.2 L1150.8,429.1 L1156.8,429.0 L1162.8,429.0 L1168.9,429.0 L1174.9,429.0 L1180.9,429.1 L1186.9,429.2 L1192.9,429.3 L1198.9,429.5 L1204.9,429.6 L1210.9,429.8 L1216.9,430.0 L1222.9,430.2 L1228.9,430.4 L1235.0,430.7 L1241.0,430.9 L1247.0,431.2 L1253.0,431.4 L1259.0,431.7 L1265.0,432.0 L1271.0,432.2 L1277.0,432.5 L1283.0,432.8 L1289.0,433.0 L1295.0,433.3 L1301.1,433.5 L1307.1,433.8 L1313.1,434.1 L1319.1,434.4 L1325.1,434.7 L1331.1,435.0 L1337.1,435.3 L1343.1,435.6 L1349.1,436.0 L1355.1,436.3 L1361.2,436.7 L1367.2,437.0 L1373.2,437.4 L1379.2,437.8 L1385.2,438.1 L1391.2,438.5 L1397.2,438.9 L1403.2,439.3 L1409.2,439.7 L1415.2,440.1 L1421.2,440.5 L1427.3,440.9 L1433.3,441.4 L1439.3,441.8 L1445.3,442.3 L1451.3,442.8 L1457.3,443.3 L1463.3,443.8 L1469.3,444.3 L1475.3,444.9 L1481.3,445.4 L1487.3,445.9 L1493.4,446.4 L1499.4,446.9 L1505.4,447.4 L1511.4,447.9 L1517.4,448.4 L1523.4,448.9 L1529.4,449.4 L1535.4,449.8 L1541.4,450.2 L1547.4,450.7 L1553.4,451.1 L1559.5,451.6 L1565.5,452.0 L1571.5,452.4 L1577.5,452.9 L1583.5,453.3 L1589.5,453.7 L1595.5,454.1 L1601.5,454.6 L1607.5,455.0 L1613.5,455.3 L1619.5,455.7 L1625.6,456.1 L1631.6,456.5 L1637.6,456.8 L1643.6,457.1 L1649.6,457.4 L1655.6,457.7 L1661.6,458.0 L1667.6,458.2 L1673.6,458.5 L1679.6,458.8 L1685.6,459.0 L1691.7,459.3 L1697.7,459.6 L1703.7,459.8 L1709.7,460.1 L1715.7,460.3 L1721.7,460.6 L1727.7,460.8 L1733.7,461.0 L1739.7,461.2 L1745.7,461.4 L1751.7,461.5 L1757.8,461.7 L1763.8,461.8 L1769.8,461.9 L1775.8,461.9 L1781.8,462.0 L1787.8,462.0 L1793.8,462.0 L1799.8,462.0 L1805.8,462.0 L1811.8,461.9 L1817.8,461.9 L1823.9,461.9 L1829.9,461.9 L1835.9,461.8 L1841.9,461.8 L1847.9,461.7 L1853.9,461.7 L1859.9,461.6 L1865.9,461.5 L1871.9,461.5 L1877.9,461.4 L1883.9,461.3 L1890.0,461.3 L1896.0,461.2 L1902.0,461.1 L1908.0,461.1 L1914.0,461.0 L1920.0,460.9 L1926.0,460.7 L1932.0,460.6 L1938.0,460.4 L1944.0,460.1 L1950.0,459.9 L1956.1,459.6 L1962.1,459.4 L1968.1,459.1 L1974.1,458.8 L1980.1,458.5 L1986.1,458.3 L1992.1,458.0 L1998.1,457.7 L2004.1,457.5 L2010.1,457.2 L2016.1,457.0 L2022.2,456.8 L2028.2,456.7 L2034.2,456.5 L2040.2,456.4 L2046.2,456.3 L2052.2,456.2 L2058.2,456.1 L2064.2,456.0 L2070.2,455.9 L2076.2,455.8 L2082.3,455.7 L2088.3,455.6 L2094.3,455.5 L2100.3,455.4 L2106.3,455.4 L2112.3,455.3 L2118.3,455.2 L2124.3,455.2 L2130.3,455.1 L2136.3,455.1 L2142.3,455.0 L2148.4,455.0 L2154.4,455.0 L2160.4,455.0 L2166.4,455.0 L2172.4,455.1 L2178.4,455.1 L2184.4,455.2 L2190.4,455.3 L2196.4,455.4 L2202.4,455.6 L2208.4,455.7 L2214.5,455.9 L2220.5,456.1 L2226.5,456.2 L2232.5,456.4 L2238.5,456.6 L2244.5,456.8 L2250.5,457.0 L2256.5,457.2 L2262.5,457.4 L2268.5,457.5 L2274.5,457.7 L2280.6,457.9 L2286.6,458.0 L2292.6,458.1 L2298.6,458.3 L2304.6,458.4 L2310.6,458.6 L2316.6,458.7 L2322.6,458.8 L2328.6,459.0 L2334.6,459.1 L2340.6,459.2 L2346.7,459.3 L2352.7,459.5 L2358.7,459.6 L2364.7,459.7 L2370.7,459.9 L2376.7,460.0" stroke="#C4941C" stroke-width="15.3" stroke-dasharray="65.5 59.3" stroke-dashoffset="3.4"/>
<path d="M279.5,595.0 L285.5,592.6 L291.5,590.3 L297.5,588.0 L303.5,585.7 L309.5,583.5 L315.6,581.3 L321.6,579.2 L327.6,577.0 L333.6,574.9 L339.6,572.9 L345.6,570.8 L351.6,568.8 L357.6,566.8 L363.6,564.9 L369.6,563.1 L375.6,561.2 L381.7,559.3 L387.7,557.4 L393.7,555.6 L399.7,553.7 L405.7,551.9 L411.7,550.0 L417.7,548.2 L423.7,546.4 L429.7,544.6 L435.7,542.8 L441.7,540.9 L447.8,539.1 L453.8,537.2 L459.8,535.3 L465.8,533.4 L471.8,531.5 L477.8,529.8 L483.8,528.1 L489.8,526.5 L495.8,525.0 L501.8,523.7 L507.8,522.4 L513.9,521.2 L519.9,520.1 L525.9,519.0 L531.9,517.9 L537.9,516.8 L543.9,515.8 L549.9,514.8 L555.9,513.7 L561.9,512.7 L567.9,511.6 L573.9,510.6 L580.0,509.6 L586.0,508.6 L592.0,507.7 L598.0,506.7 L604.0,505.7 L610.0,504.7 L616.0,503.6 L622.0,502.5 L628.0,501.4 L634.0,500.2 L640.1,499.0 L646.1,497.7 L652.1,496.5 L658.1,495.2 L664.1,494.0 L670.1,492.8 L676.1,491.7 L682.1,490.6 L688.1,489.6 L694.1,488.6 L700.1,487.6 L706.2,486.6 L712.2,485.7 L718.2,484.8 L724.2,483.9 L730.2,483.0 L736.2,482.1 L742.2,481.2 L748.2,480.4 L754.2,479.5 L760.2,478.6 L766.2,477.8 L772.3,477.0 L778.3,476.2 L784.3,475.4 L790.3,474.6 L796.3,473.8 L802.3,473.1 L808.3,472.4 L814.3,471.7 L820.3,471.0 L826.3,470.4 L832.3,469.8 L838.4,469.2 L844.4,468.6 L850.4,468.0 L856.4,467.5 L862.4,466.9 L868.4,466.4 L874.4,465.8 L880.4,465.3 L886.4,464.8 L892.4,464.4 L898.4,463.9 L904.5,463.5 L910.5,463.1 L916.5,462.7 L922.5,462.4 L928.5,462.1 L934.5,461.8 L940.5,461.5 L946.5,461.2 L952.5,460.9 L958.5,460.6 L964.5,460.4 L970.6,460.1 L976.6,459.8 L982.6,459.6 L988.6,459.3 L994.6,459.1 L1000.6,458.9 L1006.6,458.7 L1012.6,458.5 L1018.6,458.4 L1024.6,458.3 L1030.6,458.2 L1036.7,458.1 L1042.7,458.0 L1048.7,458.0 L1054.7,458.0 L1060.7,458.1 L1066.7,458.3 L1072.7,458.5 L1078.7,458.7 L1084.7,459.0 L1090.7,459.3 L1096.7,459.6 L1102.8,459.9 L1108.8,460.2 L1114.8,460.4 L1120.8,460.7 L1126.8,460.9 L1132.8,461.1 L1138.8,461.2 L1144.8,461.3 L1150.8,461.4 L1156.8,461.5 L1162.8,461.6 L1168.9,461.7 L1174.9,461.8 L1180.9,461.9 L1186.9,462.1 L1192.9,462.2 L1198.9,462.4 L1204.9,462.6 L1210.9,463.0 L1216.9,463.4 L1222.9,464.0 L1228.9,464.6 L1235.0,465.3 L1241.0,466.0 L1247.0,466.7 L1253.0,467.4 L1259.0,468.1 L1265.0,468.7 L1271.0,469.3 L1277.0,469.8 L1283.0,470.3 L1289.0,470.8 L1295.0,471.3 L1301.1,471.8 L1307.1,472.3 L1313.1,472.8 L1319.1,473.3 L1325.1,473.8 L1331.1,474.3 L1337.1,474.8 L1343.1,475.3 L1349.1,475.8 L1355.1,476.4 L1361.2,476.9 L1367.2,477.5 L1373.2,478.1 L1379.2,478.7 L1385.2,479.3 L1391.2,479.9 L1397.2,480.6 L1403.2,481.2 L1409.2,481.9 L1415.2,482.5 L1421.2,483.2 L1427.3,483.9 L1433.3,484.5 L1439.3,485.2 L1445.3,485.8 L1451.3,486.5 L1457.3,487.1 L1463.3,487.8 L1469.3,488.4 L1475.3,489.1 L1481.3,489.8 L1487.3,490.4 L1493.4,491.1 L1499.4,491.8 L1505.4,492.4 L1511.4,493.1 L1517.4,493.7 L1523.4,494.4 L1529.4,495.0 L1535.4,495.7 L1541.4,496.3 L1547.4,496.9 L1553.4,497.6 L1559.5,498.2 L1565.5,498.9 L1571.5,499.5 L1577.5,500.2 L1583.5,500.8 L1589.5,501.5 L1595.5,502.1 L1601.5,502.7 L1607.5,503.2 L1613.5,503.8 L1619.5,504.3 L1625.6,504.7 L1631.6,505.1 L1637.6,505.5 L1643.6,505.8 L1649.6,506.1 L1655.6,506.4 L1661.6,506.7 L1667.6,507.0 L1673.6,507.3 L1679.6,507.5 L1685.6,507.8 L1691.7,508.0 L1697.7,508.3 L1703.7,508.5 L1709.7,508.7 L1715.7,509.0 L1721.7,509.2 L1727.7,509.4 L1733.7,509.7 L1739.7,509.9 L1745.7,510.1 L1751.7,510.3 L1757.8,510.5 L1763.8,510.7 L1769.8,510.9 L1775.8,511.0 L1781.8,511.2 L1787.8,511.3 L1793.8,511.4 L1799.8,511.5 L1805.8,511.6 L1811.8,511.7 L1817.8,511.8 L1823.9,511.9 L1829.9,512.0 L1835.9,512.1 L1841.9,512.2 L1847.9,512.2 L1853.9,512.3 L1859.9,512.4 L1865.9,512.4 L1871.9,512.4 L1877.9,512.5 L1883.9,512.5 L1890.0,512.5 L1896.0,512.5 L1902.0,512.4 L1908.0,512.2 L1914.0,512.0 L1920.0,511.8 L1926.0,511.5 L1932.0,511.3 L1938.0,511.0 L1944.0,510.7 L1950.0,510.4 L1956.1,510.1 L1962.1,509.9 L1968.1,509.7 L1974.1,509.6 L1980.1,509.5 L1986.1,509.5 L1992.1,509.5 L1998.1,509.5 L2004.1,509.5 L2010.1,509.5 L2016.1,509.5 L2022.2,509.5 L2028.2,509.5 L2034.2,509.5 L2040.2,509.5 L2046.2,509.5 L2052.2,509.5 L2058.2,509.5 L2064.2,509.5 L2070.2,509.5 L2076.2,509.5 L2082.3,509.5 L2088.3,509.6 L2094.3,509.7 L2100.3,509.8 L2106.3,510.0 L2112.3,510.2 L2118.3,510.4 L2124.3,510.7 L2130.3,510.9 L2136.3,511.2 L2142.3,511.5 L2148.4,511.8 L2154.4,512.1 L2160.4,512.4 L2166.4,512.7 L2172.4,513.0 L2178.4,513.3 L2184.4,513.7 L2190.4,514.0 L2196.4,514.4 L2202.4,514.8 L2208.4,515.2 L2214.5,515.6 L2220.5,516.1 L2226.5,516.6 L2232.5,517.1 L2238.5,517.6 L2244.5,518.1 L2250.5,518.6 L2256.5,519.2 L2262.5,519.8 L2268.5,520.4 L2274.5,521.0 L2280.6,521.7 L2286.6,522.4 L2292.6,523.2 L2298.6,524.0 L2304.6,524.8 L2310.6,525.7 L2316.6,526.5 L2322.6,527.4 L2328.6,528.2 L2334.6,529.1 L2340.6,530.0 L2346.7,531.0 L2352.7,531.9 L2358.7,532.9 L2364.7,533.9 L2370.7,534.9 L2376.7,535.9" stroke="#C4941C" stroke-width="15.3" stroke-dasharray="19.5 11.7" stroke-dashoffset="0.9"/>
<path d="M279.0,631.0 L300.0,619.0 L320.0,612.0 L336.0,611.0 L349.5,622.0 L366.0,598.0 L385.5,621.5 L403.5,582.0 L417.5,618.5 L440.0,590.0 L469.7,566.0 L490.0,580.0 L508.7,591.8 L524.0,570.0 L537.6,550.8 L557.6,562.8 L569.6,549.8 L579.6,559.8 L601.5,536.9 L616.0,548.0 L629.5,561.8 L651.5,618.7 L665.5,589.8 L683.4,607.8 L705.4,563.8 L725.4,625.7 L730.0,615.7 L740.0,603.7 L756.0,613.7 L776.0,599.7 L806.0,601.7 L833.9,649.6 L867.8,609.7 L877.8,615.7 L889.8,599.7 L907.8,657.6 L921.7,622.7 L959.7,655.6 L979.7,653.6 L1017.6,691.6 L1029.6,691.6 L1049.6,665.6 L1053.5,679.6 L1093.5,624.7 L1103.5,635.6 L1115.5,627.7 L1129.4,657.6 L1147.4,637.6 L1180.0,678.0 L1190.0,676.0 L1207.0,661.9 L1245.9,713.8 L1257.9,693.9 L1275.9,717.8 L1288.8,655.9 L1303.8,689.9 L1328.8,690.9 L1351.8,745.8 L1371.7,729.8 L1387.7,769.8 L1407.7,731.8 L1422.7,779.7 L1441.6,742.8 L1467.6,777.7 L1483.6,809.7 L1503.5,763.8 L1515.5,793.7 L1544.5,742.8 L1565.5,797.7 L1585.4,769.8 L1595.4,773.8 L1607.4,765.8 L1619.4,781.7 L1630.0,773.8 L1647.0,819.7 L1667.9,747.8 L1677.9,759.8 L1687.9,751.8 L1715.9,789.8 L1759.8,753.8 L1799.8,807.7 L1821.7,781.8 L1839.7,829.7 L1851.7,903.6 L1882.6,841.7 L1895.6,887.6 L1913.6,851.7 L1925.6,887.6 L1935.6,867.7 L1949.5,909.6 L1965.5,911.6 L1983.5,945.5 L1997.5,925.6 L2013.5,941.5 L2039.4,955.5 L2067.0,903.8 L2078.0,912.0 L2097.9,857.8 L2109.9,877.8 L2128.8,855.8 L2139.8,879.8 L2149.8,861.8 L2179.8,855.8 L2200.7,875.8 L2227.7,851.8 L2241.7,909.8 L2265.7,861.8 L2303.6,929.7 L2315.6,889.8 L2327.6,897.8 L2363.5,1051.6" stroke="#B97FC5" stroke-opacity="1.0" stroke-width="12.3" stroke-linecap="round"/>
<path d="M279.5,610.8 L285.5,609.0 L291.5,607.1 L297.5,605.2 L303.5,603.2 L309.5,601.2 L315.6,599.1 L321.6,597.0 L327.6,594.9 L333.6,592.7 L339.6,590.2 L345.6,587.6 L351.6,584.9 L357.6,582.2 L363.6,579.5 L369.6,576.8 L375.6,574.3 L381.7,572.0 L387.7,569.9 L393.7,568.1 L399.7,566.6 L405.7,565.2 L411.7,563.9 L417.7,562.8 L423.7,561.7 L429.7,560.7 L435.7,559.6 L441.7,558.6 L447.8,557.5 L453.8,556.3 L459.8,555.0 L465.8,553.7 L471.8,552.1 L477.8,550.5 L483.8,548.9 L489.8,547.2 L495.8,545.6 L501.8,544.1 L507.8,542.7 L513.9,541.4 L519.9,540.3 L525.9,539.2 L531.9,538.1 L537.9,537.0 L543.9,535.9 L549.9,535.0 L555.9,534.1 L561.9,533.4 L567.9,532.7 L573.9,532.3 L580.0,532.0 L586.0,531.8 L592.0,531.7 L598.0,531.5 L604.0,531.4 L610.0,531.3 L616.0,531.2 L622.0,531.1 L628.0,531.1 L634.0,531.0 L640.1,531.0 L646.1,531.0 L652.1,531.0 L658.1,531.1 L664.1,531.2 L670.1,531.3 L676.1,531.4 L682.1,531.5 L688.1,531.6 L694.1,531.8 L700.1,531.9 L706.2,532.1 L712.2,532.2 L718.2,532.4 L724.2,532.7 L730.2,532.9 L736.2,533.2 L742.2,533.6 L748.2,533.9 L754.2,534.3 L760.2,534.7 L766.2,535.1 L772.3,535.6 L778.3,536.2 L784.3,536.9 L790.3,537.7 L796.3,538.5 L802.3,539.3 L808.3,540.2 L814.3,541.1 L820.3,541.9 L826.3,542.7 L832.3,543.4 L838.4,544.1 L844.4,544.8 L850.4,545.6 L856.4,546.3 L862.4,547.0 L868.4,547.7 L874.4,548.4 L880.4,549.1 L886.4,549.8 L892.4,550.5 L898.4,551.3 L904.5,552.1 L910.5,552.9 L916.5,553.7 L922.5,554.5 L928.5,555.2 L934.5,556.0 L940.5,556.7 L946.5,557.3 L952.5,557.9 L958.5,558.4 L964.5,558.9 L970.6,559.3 L976.6,559.7 L982.6,560.1 L988.6,560.5 L994.6,560.8 L1000.6,561.2 L1006.6,561.6 L1012.6,562.0 L1018.6,562.5 L1024.6,563.0 L1030.6,563.6 L1036.7,564.1 L1042.7,564.7 L1048.7,565.2 L1054.7,565.7 L1060.7,566.1 L1066.7,566.5 L1072.7,566.8 L1078.7,567.0 L1084.7,567.2 L1090.7,567.3 L1096.7,567.4 L1102.8,567.5 L1108.8,567.5 L1114.8,567.6 L1120.8,567.7 L1126.8,567.8 L1132.8,567.9 L1138.8,568.1 L1144.8,568.3 L1150.8,568.5 L1156.8,568.8 L1162.8,569.1 L1168.9,569.5 L1174.9,569.9 L1180.9,570.3 L1186.9,570.7 L1192.9,571.2 L1198.9,571.7 L1204.9,572.2 L1210.9,572.7 L1216.9,573.3 L1222.9,574.0 L1228.9,574.7 L1235.0,575.4 L1241.0,576.2 L1247.0,577.0 L1253.0,577.9 L1259.0,578.7 L1265.0,579.6 L1271.0,580.5 L1277.0,581.5 L1283.0,582.5 L1289.0,583.6 L1295.0,584.6 L1301.1,585.8 L1307.1,586.9 L1313.1,588.1 L1319.1,589.4 L1325.1,590.6 L1331.1,591.9 L1337.1,593.2 L1343.1,594.7 L1349.1,596.2 L1355.1,597.7 L1361.2,599.2 L1367.2,600.8 L1373.2,602.3 L1379.2,603.9 L1385.2,605.4 L1391.2,606.9 L1397.2,608.5 L1403.2,610.0 L1409.2,611.5 L1415.2,613.1 L1421.2,614.6 L1427.3,616.2 L1433.3,617.7 L1439.3,619.3 L1445.3,620.9 L1451.3,622.5 L1457.3,624.2 L1463.3,626.0 L1469.3,627.7 L1475.3,629.5 L1481.3,631.3 L1487.3,632.9 L1493.4,634.4 L1499.4,635.8 L1505.4,636.9 L1511.4,638.0 L1517.4,639.0 L1523.4,639.9 L1529.4,640.8 L1535.4,641.6 L1541.4,642.4 L1547.4,643.1 L1553.4,643.8 L1559.5,644.5 L1565.5,645.2 L1571.5,645.8 L1577.5,646.5 L1583.5,647.2 L1589.5,647.9 L1595.5,648.5 L1601.5,649.1 L1607.5,649.6 L1613.5,650.1 L1619.5,650.4 L1625.6,650.5 L1631.6,650.5 L1637.6,650.5 L1643.6,650.5 L1649.6,650.4 L1655.6,650.4 L1661.6,650.3 L1667.6,650.3 L1673.6,650.2 L1679.6,650.2 L1685.6,650.1 L1691.7,650.0 L1697.7,650.0 L1703.7,649.9 L1709.7,649.7 L1715.7,649.6 L1721.7,649.5 L1727.7,649.3 L1733.7,649.2 L1739.7,649.1 L1745.7,649.0 L1751.7,649.0 L1757.8,649.1 L1763.8,649.6 L1769.8,650.2 L1775.8,651.1 L1781.8,652.1 L1787.8,653.3 L1793.8,654.6 L1799.8,655.9 L1805.8,657.2 L1811.8,658.5 L1817.8,659.8 L1823.9,661.0 L1829.9,662.2 L1835.9,663.6 L1841.9,664.9 L1847.9,666.4 L1853.9,667.9 L1859.9,669.4 L1865.9,671.0 L1871.9,672.7 L1877.9,674.4 L1883.9,676.2 L1890.0,678.1 L1896.0,680.1 L1902.0,682.1 L1908.0,684.2 L1914.0,686.3 L1920.0,688.5 L1926.0,690.8 L1932.0,693.2 L1938.0,695.6 L1944.0,698.2 L1950.0,701.0 L1956.1,703.9 L1962.1,707.0 L1968.1,710.1 L1974.1,713.2 L1980.1,716.2 L1986.1,719.0 L1992.1,721.5 L1998.1,724.1 L2004.1,726.6 L2010.1,729.1 L2016.1,731.5 L2022.2,733.9 L2028.2,736.2 L2034.2,738.3 L2040.2,740.4 L2046.2,742.3 L2052.2,744.1 L2058.2,745.8 L2064.2,747.7 L2070.2,749.5 L2076.2,751.3 L2082.3,752.9 L2088.3,754.3 L2094.3,755.5 L2100.3,756.3 L2106.3,756.7 L2112.3,756.7 L2118.3,756.5 L2124.3,756.1 L2130.3,755.7 L2136.3,755.2 L2142.3,754.6 L2148.4,753.9 L2154.4,753.2 L2160.4,752.5 L2166.4,751.7 L2172.4,751.0 L2178.4,750.3 L2184.4,749.4 L2190.4,748.5 L2196.4,747.5 L2202.4,746.4 L2208.4,745.3 L2214.5,744.3 L2220.5,743.3 L2226.5,742.5 L2232.5,741.8 L2238.5,741.1 L2244.5,740.5 L2250.5,739.9 L2256.5,739.2 L2262.5,738.7 L2268.5,738.1 L2274.5,737.7 L2280.6,737.3 L2286.6,737.0 L2292.6,736.8 L2298.6,736.7 L2304.6,736.8 L2310.6,737.2 L2316.6,737.8 L2322.6,738.6 L2328.6,739.6 L2334.6,740.7 L2340.6,741.8 L2346.7,743.0 L2352.7,744.2 L2358.7,745.3 L2364.7,746.7 L2370.7,748.3 L2376.7,749.9" stroke="#7E2F8E" stroke-width="15.3" stroke-dasharray="65.5 59.3" stroke-dashoffset="2.0"/>
<path d="M279.5,632.4 L285.5,625.8 L291.5,622.9 L297.5,621.0 L303.5,619.6 L309.5,618.4 L315.6,616.9 L321.6,615.2 L327.6,613.4 L333.6,611.6 L339.6,609.8 L345.6,608.1 L351.6,606.4 L357.6,604.8 L363.6,603.2 L369.6,601.6 L375.6,600.1 L381.7,598.6 L387.7,597.1 L393.7,595.6 L399.7,594.3 L405.7,593.1 L411.7,592.0 L417.7,591.0 L423.7,590.0 L429.7,589.1 L435.7,588.2 L441.7,587.2 L447.8,586.2 L453.8,585.3 L459.8,584.4 L465.8,583.7 L471.8,583.2 L477.8,582.9 L483.8,582.6 L489.8,582.3 L495.8,582.0 L501.8,581.7 L507.8,581.3 L513.9,580.8 L519.9,580.4 L525.9,580.0 L531.9,579.7 L537.9,579.5 L543.9,579.2 L549.9,579.0 L555.9,578.8 L561.9,578.8 L567.9,578.9 L573.9,579.1 L580.0,579.3 L586.0,579.5 L592.0,579.8 L598.0,580.0 L604.0,580.1 L610.0,580.3 L616.0,580.5 L622.0,580.7 L628.0,581.1 L634.0,581.7 L640.1,582.5 L646.1,583.4 L652.1,584.3 L658.1,585.2 L664.1,586.1 L670.1,587.2 L676.1,588.2 L682.1,589.3 L688.1,590.2 L694.1,591.2 L700.1,592.1 L706.2,593.0 L712.2,594.0 L718.2,594.9 L724.2,595.9 L730.2,596.9 L736.2,598.0 L742.2,599.0 L748.2,600.1 L754.2,601.2 L760.2,602.4 L766.2,603.6 L772.3,604.8 L778.3,605.9 L784.3,607.1 L790.3,608.2 L796.3,609.4 L802.3,610.5 L808.3,611.8 L814.3,613.1 L820.3,614.5 L826.3,615.9 L832.3,617.2 L838.4,618.6 L844.4,619.8 L850.4,621.0 L856.4,622.1 L862.4,623.2 L868.4,624.4 L874.4,625.6 L880.4,626.8 L886.4,627.9 L892.4,629.1 L898.4,630.2 L904.5,631.3 L910.5,632.3 L916.5,633.2 L922.5,634.2 L928.5,635.2 L934.5,636.2 L940.5,637.4 L946.5,638.6 L952.5,639.8 L958.5,641.0 L964.5,642.1 L970.6,643.1 L976.6,644.2 L982.6,645.1 L988.6,646.1 L994.6,647.0 L1000.6,647.8 L1006.6,648.6 L1012.6,649.4 L1018.6,650.1 L1024.6,650.8 L1030.6,651.4 L1036.7,651.9 L1042.7,652.4 L1048.7,653.0 L1054.7,653.7 L1060.7,654.5 L1066.7,655.6 L1072.7,656.6 L1078.7,657.7 L1084.7,658.6 L1090.7,659.5 L1096.7,660.2 L1102.8,660.9 L1108.8,661.7 L1114.8,662.5 L1120.8,663.4 L1126.8,664.3 L1132.8,665.3 L1138.8,666.3 L1144.8,667.3 L1150.8,668.4 L1156.8,669.6 L1162.8,670.9 L1168.9,672.2 L1174.9,673.5 L1180.9,674.8 L1186.9,676.1 L1192.9,677.4 L1198.9,678.8 L1204.9,680.3 L1210.9,682.0 L1216.9,684.0 L1222.9,686.2 L1228.9,688.3 L1235.0,690.3 L1241.0,692.1 L1247.0,693.6 L1253.0,695.1 L1259.0,696.7 L1265.0,698.3 L1271.0,700.2 L1277.0,702.4 L1283.0,704.7 L1289.0,707.0 L1295.0,709.2 L1301.1,711.2 L1307.1,713.2 L1313.1,715.1 L1319.1,717.1 L1325.1,719.2 L1331.1,721.4 L1337.1,723.9 L1343.1,726.5 L1349.1,729.0 L1355.1,731.5 L1361.2,733.9 L1367.2,736.3 L1373.2,738.7 L1379.2,741.0 L1385.2,743.4 L1391.2,745.7 L1397.2,748.1 L1403.2,750.4 L1409.2,752.6 L1415.2,754.6 L1421.2,756.5 L1427.3,758.2 L1433.3,759.9 L1439.3,761.5 L1445.3,763.3 L1451.3,765.2 L1457.3,767.2 L1463.3,769.1 L1469.3,770.8 L1475.3,772.2 L1481.3,773.3 L1487.3,774.4 L1493.4,775.3 L1499.4,776.2 L1505.4,777.1 L1511.4,777.9 L1517.4,778.8 L1523.4,779.5 L1529.4,780.2 L1535.4,780.8 L1541.4,781.3 L1547.4,781.8 L1553.4,782.3 L1559.5,782.6 L1565.5,782.7 L1571.5,782.7 L1577.5,782.7 L1583.5,782.7 L1589.5,782.7 L1595.5,782.7 L1601.5,782.7 L1607.5,782.9 L1613.5,783.1 L1619.5,783.4 L1625.6,783.7 L1631.6,784.2 L1637.6,784.8 L1643.6,785.6 L1649.6,786.5 L1655.6,787.4 L1661.6,788.1 L1667.6,788.8 L1673.6,789.5 L1679.6,790.3 L1685.6,791.1 L1691.7,792.1 L1697.7,793.3 L1703.7,794.6 L1709.7,796.1 L1715.7,797.7 L1721.7,799.3 L1727.7,801.1 L1733.7,803.1 L1739.7,805.2 L1745.7,807.3 L1751.7,809.4 L1757.8,811.4 L1763.8,813.5 L1769.8,815.7 L1775.8,818.0 L1781.8,820.6 L1787.8,823.3 L1793.8,826.3 L1799.8,829.4 L1805.8,832.6 L1811.8,836.0 L1817.8,839.6 L1823.9,843.4 L1829.9,847.3 L1835.9,851.1 L1841.9,855.0 L1847.9,858.9 L1853.9,862.9 L1859.9,866.8 L1865.9,870.7 L1871.9,874.6 L1877.9,878.5 L1883.9,882.5 L1890.0,886.6 L1896.0,890.8 L1902.0,895.0 L1908.0,899.2 L1914.0,903.2 L1920.0,907.1 L1926.0,911.0 L1932.0,914.6 L1938.0,917.8 L1944.0,920.7 L1950.0,923.4 L1956.1,925.8 L1962.1,928.0 L1968.1,929.8 L1974.1,931.3 L1980.1,932.8 L1986.1,934.0 L1992.1,935.0 L1998.1,935.7 L2004.1,936.1 L2010.1,936.5 L2016.1,936.9 L2022.2,937.1 L2028.2,937.2 L2034.2,936.8 L2040.2,935.7 L2046.2,934.1 L2052.2,932.4 L2058.2,930.9 L2064.2,929.5 L2070.2,928.1 L2076.2,926.8 L2082.3,925.4 L2088.3,924.1 L2094.3,922.8 L2100.3,921.5 L2106.3,920.3 L2112.3,919.1 L2118.3,918.0 L2124.3,916.9 L2130.3,915.7 L2136.3,914.6 L2142.3,913.6 L2148.4,913.0 L2154.4,912.6 L2160.4,912.3 L2166.4,912.1 L2172.4,911.9 L2178.4,911.8 L2184.4,911.8 L2190.4,912.1 L2196.4,912.7 L2202.4,913.4 L2208.4,914.2 L2214.5,915.1 L2220.5,916.2 L2226.5,917.7 L2232.5,919.4 L2238.5,921.3 L2244.5,923.3 L2250.5,925.5 L2256.5,928.0 L2262.5,930.7 L2268.5,933.6 L2274.5,936.7 L2280.6,940.2 L2286.6,944.1 L2292.6,948.1 L2298.6,952.4 L2304.6,957.1 L2310.6,962.2 L2316.6,967.4 L2322.6,972.6 L2328.6,977.7 L2334.6,982.8 L2340.6,988.1 L2346.7,993.7 L2352.7,999.9 L2358.7,1006.5 L2364.7,1012.8 L2370.7,1018.5 L2376.7,1023.7" stroke="#7E2F8E" stroke-width="15.3" stroke-dasharray="19.5 11.7" stroke-dashoffset="30.6"/>
</g>
<text transform="translate(612.0,1654.6) scale(1,1.03)" font-family="'Liberation Serif', serif" font-size="80.6" fill="#262626" text-anchor="middle" stroke="#fff" stroke-width="1.7">200</text>
<text transform="translate(1051.5,1654.6) scale(1,1.03)" font-family="'Liberation Serif', serif" font-size="80.6" fill="#262626" text-anchor="middle" stroke="#fff" stroke-width="1.7">400</text>
<text transform="translate(1493.0,1654.6) scale(1,1.03)" font-family="'Liberation Serif', serif" font-size="80.6" fill="#262626" text-anchor="middle" stroke="#fff" stroke-width="1.7">600</text>
<text transform="translate(1934.8,1654.6) scale(1,1.03)" font-family="'Liberation Serif', serif" font-size="80.6" fill="#262626" text-anchor="middle" stroke="#fff" stroke-width="1.7">800</text>
<text transform="translate(2374.5,1654.6) scale(1,1.03)" font-family="'Liberation Serif', serif" font-size="80.6" fill="#262626" text-anchor="middle" stroke="#fff" stroke-width="1.7">1000</text>
<text transform="translate(0,178.8) scale(1,1.03)" font-family="'Liberation Serif', serif" font-size="80.6" fill="#262626" stroke="#fff" stroke-width="1.7"><tspan x="175.2">20</tspan></text>
<text transform="translate(0,459.4) scale(1,1.03)" font-family="'Liberation Serif', serif" font-size="80.6" fill="#262626" stroke="#fff" stroke-width="1.7"><tspan x="175.2">10</tspan></text>
<text transform="translate(0,740.0) scale(1,1.03)" font-family="'Liberation Serif', serif" font-size="80.6" fill="#262626" stroke="#fff" stroke-width="1.7"><tspan x="215.5">0</tspan></text>
<text transform="translate(0,1020.6) scale(1,1.03)" font-family="'Liberation Serif', serif" font-size="80.6" fill="#262626" stroke="#fff" stroke-width="1.7"><tspan x="119.2" dy="9.2" textLength="57.3" lengthAdjust="spacingAndGlyphs">−</tspan><tspan x="175.2" dy="-9.2">10</tspan></text>
<text transform="translate(0,1301.2) scale(1,1.03)" font-family="'Liberation Serif', serif" font-size="80.6" fill="#262626" stroke="#fff" stroke-width="1.7"><tspan x="119.2" dy="9.2" textLength="57.3" lengthAdjust="spacingAndGlyphs">−</tspan><tspan x="175.2" dy="-9.2">20</tspan></text>
<text transform="translate(0,1581.8) scale(1,1.03)" font-family="'Liberation Serif', serif" font-size="80.6" fill="#262626" stroke="#fff" stroke-width="1.7"><tspan x="119.2" dy="9.2" textLength="57.3" lengthAdjust="spacingAndGlyphs">−</tspan><tspan x="175.2" dy="-9.2">30</tspan></text>
<text transform="translate(0,1772.7) scale(1,1.075)" font-family="'Liberation Sans', sans-serif" font-size="83" fill="#262626" stroke="#262626" stroke-width="0.5"><tspan x="1131.5" textLength="252.7" lengthAdjust="spacingAndGlyphs">Range</tspan> <tspan x="1405.5" textLength="117.0" lengthAdjust="spacingAndGlyphs">(m)</tspan></text>
<text transform="translate(81,0) rotate(-90)" font-family="'Liberation Sans', sans-serif" font-size="84.5" fill="#262626"><tspan x="-1025" font-family="'Liberation Serif', serif" font-size="94" textLength="69.5" lengthAdjust="spacingAndGlyphs">Δ</tspan> <tspan x="-931" font-size="92" font-style="italic">L</tspan> <tspan x="-859.5">(dB)</tspan></text>
<text transform="translate(0,246.8) scale(1,1.03)" font-family="'Liberation Sans', sans-serif" font-size="79.4" fill="#000" stroke="#000" stroke-width="0.6"><tspan x="324">f</tspan> <tspan x="368.6" dy="5.6" textLength="48.7" lengthAdjust="spacingAndGlyphs">=</tspan> <tspan x="437.5" dy="-5.6" textLength="250.1" lengthAdjust="spacingAndGlyphs">250 Hz</tspan></text>
<rect x="682.8" y="35.2" width="1225.8" height="104.1" fill="#fff" stroke="#262626" stroke-width="2.6"/>
<g stroke="#000" stroke-width="16.3" fill="none">
<line x1="702.6" y1="85" x2="859.6" y2="85"/>
<line x1="1097.2" y1="85" x2="1254.6" y2="85" stroke-dasharray="64.6 60.2"/>
<line x1="1513.2" y1="84.5" x2="1670.6" y2="84.5" stroke-dasharray="18.4 12.8"/>
</g>
<text transform="translate(872.0,112.0) scale(1,1.08)" font-family="'Liberation Sans', sans-serif" font-size="68" fill="#000" text-anchor="start" stroke="#000" stroke-width="0.5">GTPE</text>
<text transform="translate(1268.0,112.0) scale(1,1.08)" font-family="'Liberation Sans', sans-serif" font-size="68" fill="#000" text-anchor="start" stroke="#000" stroke-width="0.5" word-spacing="5.5">Eq. 25</text>
<text transform="translate(1684.0,112.0) scale(1,1.08)" font-family="'Liberation Sans', sans-serif" font-size="68" fill="#000" text-anchor="start" stroke="#000" stroke-width="0.5" word-spacing="5">Eq. 27</text>
<rect x="323.6" y="1163" width="346.1" height="360.8" fill="#fff" stroke="#262626" stroke-width="2.6"/>
<rect x="344.4" y="1191.3" width="154" height="46.8" fill="#3C8FCB"/>
<text transform="translate(514.5,1239.3) scale(1,1.055)" font-family="'Liberation Sans', sans-serif" font-size="68" fill="#000" text-anchor="start" stroke="#000" stroke-width="0.5">SS2</text>
<rect x="344.4" y="1276.9" width="154" height="46.8" fill="#E27A46"/>
<text transform="translate(514.5,1325.2) scale(1,1.055)" font-family="'Liberation Sans', sans-serif" font-size="68" fill="#000" text-anchor="start" stroke="#000" stroke-width="0.5">SS3</text>
<rect x="344.4" y="1362.7" width="154" height="46.8" fill="#F0C04C"/>
<text transform="translate(514.5,1410.5) scale(1,1.055)" font-family="'Liberation Sans', sans-serif" font-size="68" fill="#000" text-anchor="start" stroke="#000" stroke-width="0.5">SS4</text>
<rect x="344.4" y="1448.8" width="154" height="46.8" fill="#9B5CA6"/>
<text transform="translate(514.5,1496.4) scale(1,1.055)" font-family="'Liberation Sans', sans-serif" font-size="68" fill="#000" text-anchor="start" stroke="#000" stroke-width="0.5">SS5</text>
</svg>
</body></html>
